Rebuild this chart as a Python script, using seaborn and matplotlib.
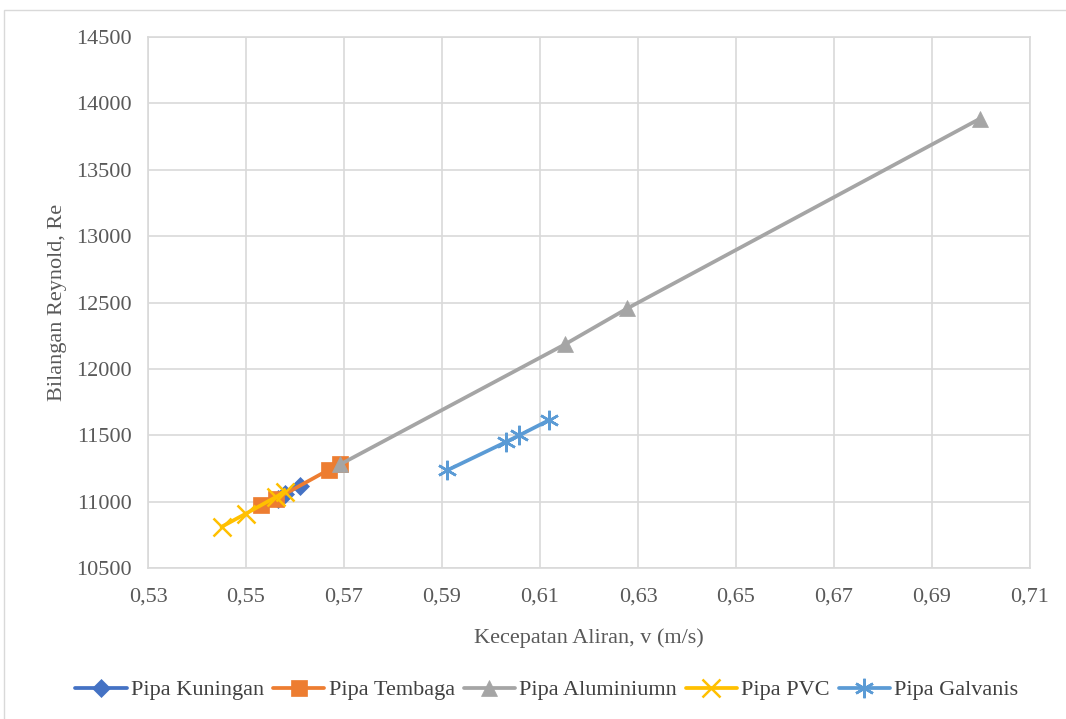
import matplotlib
matplotlib.use("Agg")
import matplotlib.pyplot as plt
import seaborn as sns
import pandas as pd
from matplotlib.ticker import FuncFormatter, MultipleLocator
from matplotlib.patches import Rectangle

# Data
kuningan_v = [0.5565, 0.5580, 0.5610]
kuningan_re = [11020, 11060, 11120]
tembaga_v = [0.5531, 0.5561, 0.5669, 0.5692]
tembaga_re = [10975, 11020, 11240, 11285]
aluminium_v = [0.5692, 0.6151, 0.6278, 0.6998]
aluminium_re = [11280, 12185, 12455, 13885]
pvc_v = [0.5450, 0.5500, 0.5561, 0.5580]
pvc_re = [10810, 10910, 11035, 11075]
galvanis_v = [0.5910, 0.6031, 0.6058, 0.6119]
galvanis_re = [11235, 11450, 11500, 11615]

series_names = ["Pipa Kuningan", "Pipa Tembaga", "Pipa Aluminiumn", "Pipa PVC", "Pipa Galvanis"]
series_v = [kuningan_v, tembaga_v, aluminium_v, pvc_v, galvanis_v]
series_re = [kuningan_re, tembaga_re, aluminium_re, pvc_re, galvanis_re]
colors = ["#4472C4", "#ED7D31", "#A5A5A5", "#FFC000", "#5B9BD5"]
markers = ["D", "s", "^", "x", (6, 2, 0)]
msizes = [9, 12, 12, 13, 14]

sns.set_theme(style="white")
plt.rcParams['font.family'] = ['Liberation Serif', 'DejaVu Serif']

fig = plt.figure(figsize=(10.66, 7.19), dpi=100)
ax = fig.add_axes([148/1066, 1-568/719, (1030-148)/1066, (568-37)/719])

# outer chart frame
fig.patches.append(Rectangle((4/1066, -0.01), 1.02, 1-10/719+0.01, transform=fig.transFigure,
                             fill=False, edgecolor="#D9D9D9", linewidth=1.0))

for name, v, re_, c, m, ms in zip(series_names, series_v, series_re, colors, markers, msizes):
    df = pd.DataFrame({"v": v, "Re": re_})
    thin = (m == "x") or isinstance(m, tuple)
    sns.lineplot(data=df, x="v", y="Re", ax=ax, color=c, linewidth=2.7, sort=False,
                 marker=m, markersize=ms, markeredgecolor=c, markerfacecolor=c,
                 markeredgewidth=1.8 if thin else 0.5,
                 label=name, errorbar=None)

ax.set_xlim(0.53, 0.71)
ax.set_ylim(10500, 14500)
ax.xaxis.set_major_locator(MultipleLocator(0.02, offset=0.01))
ax.yaxis.set_major_locator(MultipleLocator(500))
ax.xaxis.set_major_formatter(FuncFormatter(lambda x, p: f"{x:.2f}".replace(".", ",")))
ax.yaxis.set_major_formatter(FuncFormatter(lambda y, p: f"{int(round(y))}"))
ax.grid(True, color="#D9D9D9", linewidth=1.2)
for s in ax.spines.values():
    s.set_color("#D9D9D9")
    s.set_linewidth(1.2)
ax.tick_params(axis="both", labelsize=16, colors="#595959", length=0)
ax.tick_params(axis="y", pad=11.5)
ax.tick_params(axis="x", pad=14)
ax.set_xlabel("Kecepatan Aliran, v (m/s)", fontsize=16, color="#595959", labelpad=16)
ax.set_ylabel("Bilangan Reynold, Re", fontsize=16, color="#595959", labelpad=7)

ax.legend(loc="center", bbox_to_anchor=(547/1066, 1-690/719), bbox_transform=fig.transFigure,
          ncol=5, frameon=False, fontsize=16, handlelength=2.3, handletextpad=0.2,
          columnspacing=0.4, labelcolor="#404040", borderpad=0)

fig.savefig("out.png", dpi=100)
